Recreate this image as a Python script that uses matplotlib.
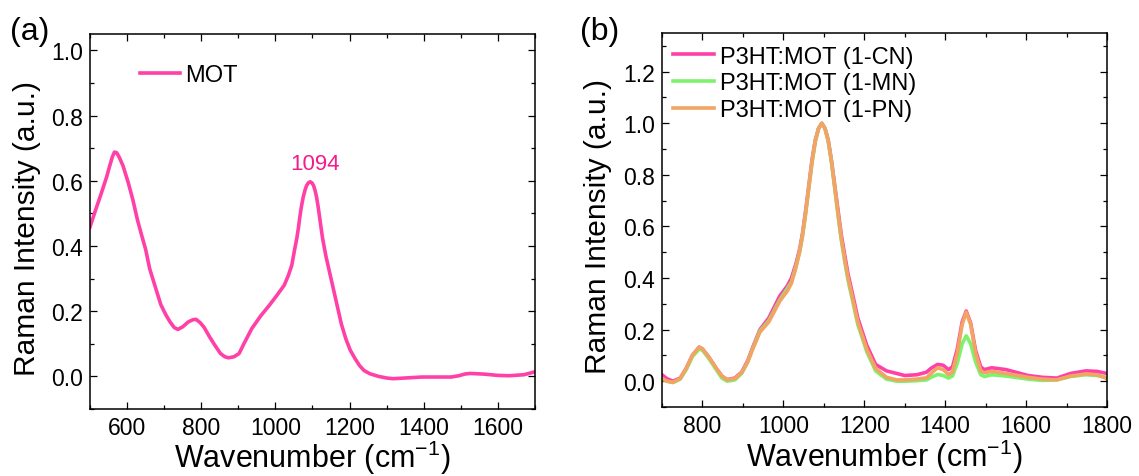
import matplotlib
matplotlib.use("Agg")
import matplotlib.pyplot as plt
from matplotlib.ticker import MultipleLocator

plt.rcParams['font.family'] = ['Liberation Sans', 'DejaVu Sans']
plt.rcParams['mathtext.default'] = 'regular'

# (a) MOT
mot_x = [500, 515, 530, 545, 553, 560, 566, 572, 579, 589, 603, 616, 628, 640, 650, 661,
         676, 691, 704, 716, 727, 737, 750, 765, 778, 786, 797, 808, 822, 837, 852, 864,
         873, 888, 902, 915, 936, 960, 985, 1005, 1024, 1035, 1044, 1052, 1058, 1062,
         1066, 1070, 1075, 1080, 1084, 1089, 1094, 1099, 1103, 1107, 1111, 1115, 1119,
         1123, 1127, 1136, 1146, 1156, 1166, 1178, 1190, 1202, 1215, 1227, 1239, 1255,
         1278, 1300, 1317, 1350, 1395, 1440, 1474, 1495, 1510, 1525, 1562, 1600, 1631,
         1670, 1700]
mot_y = [0.458, 0.51, 0.56, 0.612, 0.645, 0.672, 0.688, 0.686, 0.672, 0.646, 0.595,
         0.54, 0.48, 0.43, 0.39, 0.33, 0.275, 0.22, 0.19, 0.167, 0.15, 0.144, 0.152,
         0.167, 0.174, 0.175, 0.165, 0.15, 0.122, 0.095, 0.07, 0.06, 0.057, 0.06, 0.07,
         0.1, 0.146, 0.185, 0.22, 0.25, 0.28, 0.31, 0.34, 0.39, 0.425, 0.455, 0.49, 0.52,
         0.55, 0.572, 0.585, 0.594, 0.597, 0.593, 0.585, 0.57, 0.55, 0.522, 0.49, 0.457,
         0.425, 0.37, 0.32, 0.27, 0.22, 0.16, 0.115, 0.08, 0.054, 0.033, 0.018, 0.008,
         0.0, -0.005, -0.007, -0.005, -0.002, -0.002, -0.002, 0.002, 0.007, 0.009, 0.007,
         0.003, 0.002, 0.005, 0.014]

# (b) blends
wn_b = [700, 712, 727, 745, 760, 775, 792, 800, 815, 834, 848, 861, 880, 897, 912, 924,
        942, 964, 991, 1010, 1020, 1031, 1040, 1047, 1055, 1063, 1071, 1079, 1087, 1095,
        1103, 1111, 1119, 1127, 1135, 1143, 1151, 1160, 1170, 1184, 1206, 1228, 1255,
        1280, 1300, 1330, 1354, 1365, 1381, 1395, 1408, 1418, 1430, 1442, 1452, 1463,
        1475, 1488, 1497, 1515, 1550, 1605, 1640, 1676, 1710, 1748, 1775, 1800]
cn_y = [0.025, 0.01, 0.0, 0.012, 0.05, 0.1, 0.132, 0.125, 0.095, 0.05,
        0.02, 0.006, 0.012, 0.035, 0.08, 0.13, 0.2, 0.245, 0.33, 0.37,
        0.40, 0.455, 0.51, 0.57, 0.66, 0.76, 0.86, 0.935, 0.98, 1.0,
        0.98, 0.935, 0.855, 0.76, 0.665, 0.57, 0.495, 0.415, 0.345, 0.245,
        0.14, 0.065, 0.04, 0.03, 0.022, 0.025, 0.035, 0.05, 0.065, 0.062,
        0.045, 0.055, 0.125, 0.23, 0.272, 0.225, 0.12, 0.055, 0.045, 0.052,
        0.045, 0.022, 0.015, 0.012, 0.03, 0.04, 0.038, 0.03]
mn_y = [0.01, 0.0, -0.005, 0.008, 0.045, 0.095, 0.125, 0.12, 0.09, 0.045,
        0.012, 0.0, 0.005, 0.03, 0.075, 0.125, 0.195, 0.235, 0.315, 0.36,
        0.385, 0.445, 0.50, 0.56, 0.65, 0.75, 0.85, 0.93, 0.98, 1.0,
        0.98, 0.93, 0.85, 0.75, 0.645, 0.55, 0.47, 0.39, 0.32, 0.22,
        0.115, 0.04, 0.008, 0.0, 0.0, 0.002, 0.005, 0.015, 0.026, 0.022,
        0.012, 0.02, 0.07, 0.145, 0.176, 0.145, 0.075, 0.025, 0.018, 0.025,
        0.02, 0.008, 0.003, 0.005, 0.018, 0.025, 0.022, 0.015]
pn_y = [0.01, 0.0, -0.005, 0.01, 0.05, 0.1, 0.132, 0.125, 0.095, 0.05,
        0.02, 0.005, 0.01, 0.033, 0.075, 0.124, 0.19, 0.23, 0.31, 0.35,
        0.38, 0.44, 0.50, 0.56, 0.65, 0.75, 0.85, 0.93, 0.98, 1.0,
        0.98, 0.93, 0.85, 0.75, 0.65, 0.555, 0.48, 0.40, 0.33, 0.23,
        0.124, 0.05, 0.015, 0.005, 0.005, 0.008, 0.013, 0.03, 0.052, 0.045,
        0.026, 0.035, 0.11, 0.22, 0.268, 0.22, 0.11, 0.04, 0.033, 0.038,
        0.03, 0.015, 0.008, 0.005, 0.02, 0.028, 0.025, 0.01]

pink = '#FF40A6'
green = '#7DF26C'
orange = '#F2A463'

fig = plt.figure(figsize=(11.39, 4.77), dpi=100)
ax1 = fig.add_axes([0.079, 0.1405, 0.3907, 0.786])
ax2 = fig.add_axes([0.5812, 0.1447, 0.3907, 0.784])


def style(ax):
    for s in ax.spines.values():
        s.set_linewidth(1.1)
    ax.tick_params(which='both', direction='in', top=True, right=True, width=0.9,
                   labelsize=16.5)
    ax.tick_params(which='major', length=5)
    ax.tick_params(which='minor', length=3)
    ax.tick_params(axis='x', pad=5)
    ax.tick_params(axis='y', pad=5)
    ax.xaxis.set_major_locator(MultipleLocator(200))
    ax.xaxis.set_minor_locator(MultipleLocator(100))
    ax.yaxis.set_major_locator(MultipleLocator(0.2))
    ax.yaxis.set_minor_locator(MultipleLocator(0.1))
    ax.set_xlabel('Wavenumber (cm$^{-1}$)', fontsize=22, va='center')
    ax.set_ylabel('Raman Intensity (a.u.)', fontsize=21.5, va='center')


ax1.plot(mot_x, mot_y, color=pink, lw=2.6, label='MOT', solid_joinstyle='round')
ax1.set_xlim(500, 1700)
ax1.set_ylim(-0.1, 1.05)
style(ax1)
ax1.xaxis.set_label_coords(0.5, -0.128)
ax1.yaxis.set_label_coords(-0.142, 0.485)
ax1.text(1108, 0.652, '1094', color='#F21C8C', fontsize=16, ha='center', va='center')
ax1.legend(loc='upper left', bbox_to_anchor=(0.065, 0.977), frameon=False, fontsize=17,
           handlelength=1.7, handletextpad=0.2)

ax2.plot(wn_b, cn_y, color=pink, lw=2.6, label='P3HT:MOT (1-CN)', solid_joinstyle='round')
ax2.plot(wn_b, mn_y, color=green, lw=2.6, label='P3HT:MOT (1-MN)', solid_joinstyle='round')
ax2.plot(wn_b, pn_y, color=orange, lw=2.6, label='P3HT:MOT (1-PN)', solid_joinstyle='round')
ax2.set_xlim(700, 1800)
ax2.set_ylim(-0.1, 1.35)
style(ax2)
ax2.xaxis.set_label_coords(0.5, -0.131)
ax2.yaxis.set_label_coords(-0.144, 0.484)
ax2.legend(loc='upper left', bbox_to_anchor=(-0.0235, 1.023), frameon=False, fontsize=17,
           handlelength=1.75, handletextpad=0.25, labelspacing=0.2)

fig.text(0.0088, 0.933, '(a)', fontsize=23, va='center', ha='left')
fig.text(0.509, 0.933, '(b)', fontsize=23, va='center', ha='left')

fig.savefig('out.png', dpi=100)
